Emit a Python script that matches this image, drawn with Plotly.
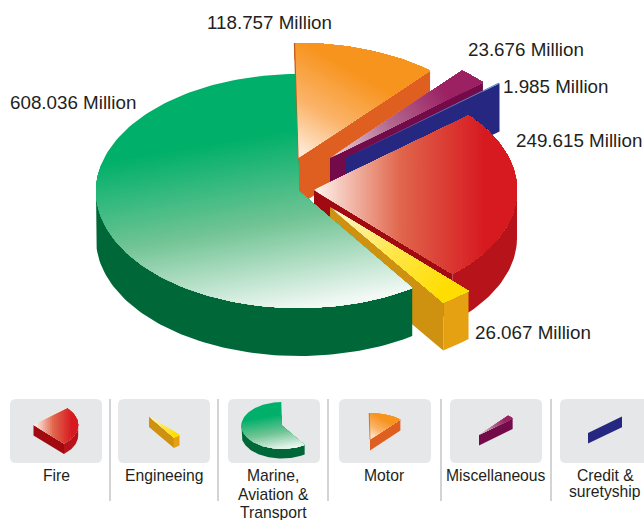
import math
import plotly.graph_objects as go

# ---- data (clockwise from the top of the pie) ----
categories = ["Motor", "Miscellaneous", "Credit & suretyship", "Fire", "Engineeing", "Marine, Aviation & Transport"]
values = [118.757, 23.676, 1.985, 249.615, 26.067, 608.036]
legend_lines = {
    "Fire": ["Fire"],
    "Engineeing": ["Engineeing"],
    "Marine, Aviation & Transport": ["Marine,", "Aviation &", "Transport"],
    "Motor": ["Motor"],
    "Miscellaneous": ["Miscellaneous"],
    "Credit & suretyship": ["Credit &", "suretyship"],
}

# ---- geometry and styling ----
RX, RY, DEPTH = 203.0, 115.0, 48.0
START_ANGLE = 91.0
FONT = "Liberation Sans, Arial, sans-serif"
TEXT = "#231F20"

# name: apex, top gradient start/end offsets from apex, colours
style = {
    "Motor": dict(apex=(298, 158), g=((0, 2), (52, -88)), c0="#FFF3E6", cm="#FBB46B", c1="#F7941E",
                  side="#DF5F20", rim="#DF5F20", edge="#C4561C"),
    "Miscellaneous": dict(apex=(330, 158), g=((5, 0), (112, -70)), c0="#E2CDD9", cm="#B3688F", c1="#9B2163",
                          side="#730A4A", rim="#730A4A", edge=None),
    "Credit & suretyship": dict(apex=(345, 158), g=None, c0="#5B84C4", cm="#5B84C4", c1="#5B84C4",
                                side="#262780", rim="#262780", edge=None),
    "Fire": dict(apex=(314, 190), g=((0, 0), (170, 0)), c0="#FFF4EE", cm="#E0664C", c1="#D71920",
                 side="#A00A10", rim="#B7131A", edge=None),
    "Engineeing": dict(apex=(330, 207), g=((2, 2), (112, 88)), c0="#FFF9CF", cm="#FFE74F", c1="#FFDD00",
                       side="#CF9210", rim="#E5A111", edge=None),
    "Marine, Aviation & Transport": dict(apex=(299, 191), ry=117.0, g=((-14, -61), (16, 114)),
                                         c0="#00B06A", cm="#72C495", c1="#F2F9F5",
                                         side="#006838", rim="#006838", edge=None),
}
# legend icon: scale and apex position
icon = {
    "Fire": (0.22, (33.5, 425)),
    "Engineeing": (0.22, (149, 416.5)),
    "Marine, Aviation & Transport": (0.20, (282, 425.5)),
    "Motor": (0.23, (370, 439.5)),
    "Miscellaneous": (0.22, (479, 435)),
    "Credit & suretyship": (0.22, (588, 433)),
}
legend_order = ["Fire", "Engineeing", "Marine, Aviation & Transport", "Motor", "Miscellaneous", "Credit & suretyship"]
box_left = [10, 118, 228, 339, 450, 560]
label_center = [56, 164, 273, 384, 496, 605]
separators = [110, 218, 328, 441, 551]
label_pos = {
    "Marine, Aviation & Transport": (10, 102, "left"),
    "Motor": (207, 22, "left"),
    "Miscellaneous": (468, 49, "left"),
    "Credit & suretyship": (503, 86, "left"),
    "Fire": (516, 140, "left"),
    "Engineeing": (475, 332, "left"),
}
line_y = {1: [475.5], 2: [475.5, 491], 3: [475.5, 494.5, 512.5]}


def hex2rgb(h):
    return tuple(int(h[i:i + 2], 16) for i in (1, 3, 5))


def grad(c0, cm, c1, t):
    a, b, u = (c0, cm, t * 2) if t < 0.5 else (cm, c1, t * 2 - 1)
    ca, cb = hex2rgb(a), hex2rgb(b)
    return "rgb(%d,%d,%d)" % tuple(round(x + (y - x) * u) for x, y in zip(ca, cb))


def clip(poly, ox, oy, dx, dy):
    """Keep the part of poly where (p-o).d >= 0."""
    out = []
    n = len(poly)
    for i in range(n):
        p, q = poly[i], poly[(i + 1) % n]
        sp = (p[0] - ox) * dx + (p[1] - oy) * dy
        sq = (q[0] - ox) * dx + (q[1] - oy) * dy
        if sp >= 0:
            out.append(p)
        if (sp >= 0) != (sq >= 0):
            u = sp / (sp - sq)
            out.append((p[0] + (q[0] - p[0]) * u, p[1] + (q[1] - p[1]) * u))
    return out


fig = go.Figure()


def add_poly(poly, color):
    if len(poly) < 3:
        return
    xs = [p[0] for p in poly] + [poly[0][0]]
    ys = [p[1] for p in poly] + [poly[0][1]]
    fig.add_trace(go.Scatter(x=xs, y=ys, mode="lines", fill="toself", fillcolor=color,
                             line=dict(width=0, color=color), hoverinfo="skip", showlegend=False))


def draw_slice(name, a0, a1, apex, s, bands):
    st = style[name]
    ax, ay = apex
    depth = DEPTH * s
    ry = st.get("ry", RY)

    def pt(a):
        r = math.radians(a)
        return (ax + s * RX * math.cos(r), ay - s * ry * math.sin(r))

    n = max(3, int(abs(a0 - a1) / 1.5))
    arc = [a0 + (a1 - a0) * i / n for i in range(n + 1)]
    end = pt(a1)
    # radial face at the clockwise end, when it faces the viewer
    if name != "Marine, Aviation & Transport":
        add_poly([(ax, ay), end, (end[0], end[1] + depth), (ax, ay + depth)], st["side"])
    # outer rim: the part of the arc in the front half of the ellipse
    front = [a for a in arc if math.sin(math.radians(a)) <= 0]
    if len(front) >= 2:
        top = [pt(a) for a in front]
        add_poly(top + [(x, y + depth) for x, y in reversed(top)], st["rim"])
    # top face, graded in painted steps
    poly = [(ax, ay)] + [pt(a) for a in arc]
    if st["g"] is None:
        add_poly(poly, st["c1"])
    else:
        (gx0, gy0), (gx1, gy1) = st["g"]
        ox, oy = ax + gx0 * s, ay + gy0 * s
        dx, dy = (gx1 - gx0) * s, (gy1 - gy0) * s
        length = math.hypot(dx, dy)
        dx, dy = dx / length, dy / length
        add_poly(poly, st["c0"])
        for i in range(1, bands + 1):
            t = i / bands
            add_poly(clip(poly, ox + dx * length * t, oy + dy * length * t, dx, dy),
                     grad(st["c0"], st["cm"], st["c1"], t))
    if st["edge"]:
        fig.add_trace(go.Scatter(x=[poly[1][0], ax], y=[poly[1][1], ay], mode="lines",
                                 line=dict(width=1.2 * max(s, 0.6), color=st["edge"]),
                                 hoverinfo="skip", showlegend=False))


total = sum(values)
spans = {}
a = START_ANGLE
for cat, v in zip(categories, values):
    b = a - v / total * 360.0
    spans[cat] = (a, b)
    a = b

# main pie, painted back to front
for cat in categories:
    draw_slice(cat, *spans[cat], style[cat]["apex"], 1.0, 70)

# legend boxes, icons and labels
shapes = []
for left in box_left:
    x0, x1, y0, y1, r = left, left + 92, 399, 463, 6
    shapes.append(dict(type="path", layer="below", fillcolor="#E6E7E8", line=dict(width=0),
                       path=f"M{x0 + r},{y0} L{x1 - r},{y0} Q{x1},{y0} {x1},{y0 + r} L{x1},{y1 - r} "
                            f"Q{x1},{y1} {x1 - r},{y1} L{x0 + r},{y1} Q{x0},{y1} {x0},{y1 - r} "
                            f"L{x0},{y0 + r} Q{x0},{y0} {x0 + r},{y0} Z"))
for x in separators:
    shapes.append(dict(type="line", layer="below", x0=x, x1=x, y0=399, y1=501,
                       line=dict(color="#A7A9AC", width=1)))

annotations = []
for cat, cx in zip(legend_order, label_center):
    s, apex = icon[cat]
    draw_slice(cat, *spans[cat], apex, s, 16)
    lines = legend_lines[cat]
    for ln, y in zip(lines, line_y[len(lines)]):
        annotations.append(dict(x=cx, y=y, text=ln, showarrow=False, xanchor="center", yanchor="middle",
                                font=dict(family=FONT, size=15.7, color=TEXT)))

for cat, v in zip(categories, values):
    x, y, anchor = label_pos[cat]
    annotations.append(dict(x=x, y=y, text=f"{v:.3f} Million", showarrow=False, xanchor=anchor, yanchor="middle",
                            xshift=-2, font=dict(family=FONT, size=18.8, color=TEXT)))

fig.update_layout(
    width=644, height=520, autosize=False,
    margin=dict(l=0, r=0, t=0, b=0),
    paper_bgcolor="white", plot_bgcolor="white",
    xaxis=dict(range=[0, 644], visible=False, fixedrange=True),
    yaxis=dict(range=[520, 0], visible=False, fixedrange=True),
    shapes=shapes, annotations=annotations, showlegend=False,
)
fig.write_html("out.html", config=dict(displayModeBar=False),
               post_script="document.body.style.margin='0';document.body.style.overflow='hidden';")
